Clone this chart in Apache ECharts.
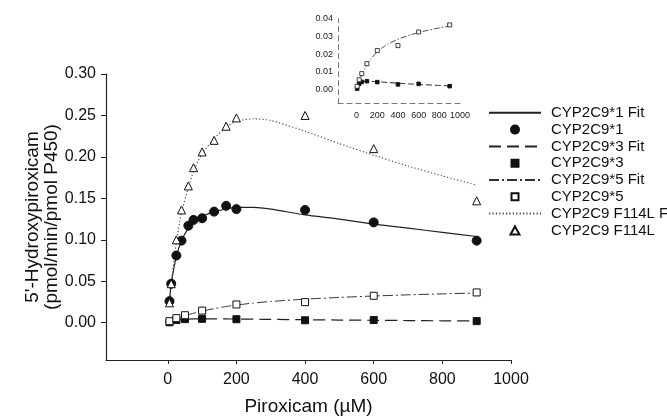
<!DOCTYPE html>
<html>
<head>
<meta charset="utf-8">
<script src="https://cdn.jsdelivr.net/npm/echarts@6/dist/echarts.min.js"></script>
<style>
html,body{margin:0;padding:0;background:#fff;}
#c{width:667px;height:420px;}
</style>
</head>
<body>
<div id="c"></div>
<script>
// ---- data ----
var xTicks = [0, 200, 400, 600, 800, 1000];
var yTicks = [0, 0.05, 0.1, 0.15, 0.2, 0.25, 0.3];
var insetXTicks = [0, 200, 400, 600, 800, 1000];
var insetYTicks = [0, 0.01, 0.02, 0.03, 0.04];

var wt1X = [5, 10, 25, 40, 60, 75, 100, 135, 170, 200, 400, 600, 900];
var wt1Y = [0.026, 0.047, 0.081, 0.099, 0.117, 0.124, 0.126, 0.134, 0.141, 0.137, 0.136, 0.121, 0.099];

var f114X = [5, 10, 25, 40, 60, 75, 100, 135, 170, 200, 400, 600, 900];
var f114Y = [0.024, 0.047, 0.100, 0.136, 0.165, 0.187, 0.206, 0.220, 0.237, 0.247, 0.250, 0.210, 0.147];

var v5X = [5, 25, 50, 100, 200, 400, 600, 900];
var v5Y = [0.0018, 0.0055, 0.0090, 0.0146, 0.0220, 0.0248, 0.0325, 0.0365];

var v3X = [5, 25, 50, 100, 200, 400, 600, 900];
var v3Y = [0.0005, 0.0032, 0.0043, 0.0047, 0.0042, 0.0029, 0.0032, 0.0019];

var fitX = [5, 10, 25, 40, 60, 75, 100, 135, 170, 200, 250, 300, 400, 500, 600, 700, 800, 900];
var fit1Y = [0.026, 0.047, 0.080, 0.099, 0.114, 0.121, 0.128, 0.134, 0.137, 0.139, 0.139, 0.137, 0.130, 0.125, 0.119, 0.114, 0.109, 0.104];
var fitF114Y = [0.024, 0.047, 0.097, 0.133, 0.163, 0.183, 0.204, 0.222, 0.236, 0.243, 0.246, 0.244, 0.231, 0.216, 0.202, 0.189, 0.177, 0.166];
var fit5Y = [0.0010, 0.0020, 0.0047, 0.0071, 0.0097, 0.0114, 0.0140, 0.0170, 0.0195, 0.0213, 0.0237, 0.0256, 0.0284, 0.0305, 0.0322, 0.0336, 0.0348, 0.0358];
var fit3Y = [0.0008, 0.0015, 0.0030, 0.0038, 0.0043, 0.0045, 0.0046, 0.0046, 0.0045, 0.0044, 0.0042, 0.0040, 0.0036, 0.0032, 0.0029, 0.0026, 0.0023, 0.0021];

var names = ['CYP2C9*1 Fit', 'CYP2C9*1', 'CYP2C9*3 Fit', 'CYP2C9*3', 'CYP2C9*5 Fit', 'CYP2C9*5', 'CYP2C9 F114L Fit', 'CYP2C9 F114L'];

function zip(xs, ys) { return xs.map(function (x, i) { return [x, ys[i]]; }); }

var FONT = "'Liberation Sans', Arial, Helvetica, sans-serif";
var INK = '#111';

function fitSeries(name, ys, type, color, width, grid) {
  return {
    name: name, type: 'line', xAxisIndex: grid, yAxisIndex: grid,
    data: zip(fitX, ys), symbol: 'none', showSymbol: false, smooth: 0.2,
    lineStyle: { color: color, width: width, type: type },
    itemStyle: { color: color },
    emphasis: { disabled: true }, z: 2
  };
}
function ptSeries(name, xs, ys, symbol, size, fill, grid) {
  return {
    name: name, type: 'scatter', xAxisIndex: grid, yAxisIndex: grid,
    data: zip(xs, ys), symbol: symbol, symbolSize: size,
    itemStyle: { color: fill, borderColor: '#111', borderWidth: 1, opacity: 1 },
    emphasis: { disabled: true }, z: 3
  };
}

var series = [
  fitSeries(names[0], fit1Y, 'solid', '#222', 1.2, 0),
  ptSeries(names[1], wt1X, wt1Y, 'circle', 9, '#111', 0),
  fitSeries(names[2], fit3Y, [12, 6], '#222', 1.2, 0),
  ptSeries(names[3], v3X, v3Y, 'rect', 7, '#111', 0),
  fitSeries(names[4], fit5Y, [10, 3, 2, 3], '#333', 1, 0),
  ptSeries(names[5], v5X, v5Y, 'rect', 7, '#fff', 0),
  fitSeries(names[6], fitF114Y, [1.2, 2.2], '#444', 1.1, 0),
  ptSeries(names[7], f114X, f114Y, 'triangle', 8, '#fff', 0),
  // inset
  fitSeries(names[2], fit3Y, [6, 3], '#222', 1, 1),
  ptSeries(names[3], v3X, v3Y, 'rect', 3.5, '#111', 1),
  fitSeries(names[4], fit5Y, [6, 2, 1.5, 2], '#333', 0.9, 1),
  ptSeries(names[5], v5X, v5Y, 'rect', 4, '#fff', 1)
];
series[11].itemStyle.borderWidth = 0.8;

var markerSize = { 'CYP2C9*1': [8, 8], 'CYP2C9*3': [7, 7], 'CYP2C9*5': [7, 7], 'CYP2C9 F114L': [9, 8] };

var legends = names.map(function (n, i) {
  var isLine = (i % 2 === 0);
  var center = 113.3 + 16.8 * i;
  var base = {
    data: [n], orient: 'vertical', top: center - 8,
    padding: 0, itemGap: 0, selectedMode: true
  };
  if (isLine) {
    base.left = 488;
    base.itemWidth = 52;
    base.itemHeight = 14;
    base.itemStyle = { color: 'rgba(0,0,0,0)', borderColor: 'rgba(0,0,0,0)', borderWidth: 0 };
    base.textStyle = { fontFamily: FONT, fontSize: 15, color: INK, padding: [0, 0, 0, 5] };
  } else {
    var sz = markerSize[n];
    base.left = 514 - sz[0] / 2;
    base.itemWidth = sz[0];
    base.itemHeight = sz[1];
    base.textStyle = { fontFamily: FONT, fontSize: 15, color: INK, padding: [0, 0, 0, 550 - (514 + sz[0] / 2 + 5)] };
  }
  return base;
});

var option = {
  backgroundColor: '#fff',
  animation: false,
  textStyle: { fontFamily: FONT },
  grid: [
    { left: 106, top: 74, width: 405, height: 286, outerBoundsMode: 'none', containLabel: false },
    { left: 338, top: 18.7, width: 122, height: 85, outerBoundsMode: 'none', containLabel: false }
  ],
  legend: legends,
  xAxis: [
    {
      type: 'value', gridIndex: 0, min: -180, max: 1000,
      name: 'Piroxicam (µM)', nameLocation: 'middle', nameGap: 37, nameMoveOverlap: false,
      nameTextStyle: { fontFamily: FONT, fontSize: 19, color: INK },
      axisLine: { show: true, onZero: false, lineStyle: { color: '#222', width: 1.2 } },
      axisTick: { show: true, inside: false, length: 4, customValues: xTicks, lineStyle: { color: '#222' } },
      axisLabel: { customValues: xTicks, fontFamily: FONT, fontSize: 16, color: INK, margin: 12,
        formatter: function (v) { return String(v); } },
      splitLine: { show: false }
    },
    {
      type: 'value', gridIndex: 1, min: -180, max: 1000,
      axisLine: { show: true, onZero: false, lineStyle: { color: '#777', width: 1, type: [5, 4] } },
      axisTick: { show: false },
      axisLabel: { customValues: insetXTicks, fontFamily: FONT, fontSize: 9, color: '#222', margin: 7,
        formatter: function (v) { return String(v); } },
      splitLine: { show: false }
    }
  ],
  yAxis: [
    {
      type: 'value', gridIndex: 0, min: -0.045, max: 0.30,
      name: "5'-Hydroxypiroxicam\n(pmol/min/pmol P450)", nameLocation: 'middle', nameGap: 45, nameMoveOverlap: false,
      nameTextStyle: { fontFamily: FONT, fontSize: 19, color: INK, lineHeight: 19 },
      axisLine: { show: true, onZero: false, lineStyle: { color: '#222', width: 1.2 } },
      axisTick: { show: true, inside: false, length: 5, customValues: yTicks, lineStyle: { color: '#222' } },
      axisLabel: { customValues: yTicks, fontFamily: FONT, fontSize: 16, color: INK, margin: 10,
        formatter: function (v) { return v.toFixed(2); } },
      splitLine: { show: false }
    },
    {
      type: 'value', gridIndex: 1, min: -0.008, max: 0.04,
      axisLine: { show: true, onZero: false, lineStyle: { color: '#777', width: 1, type: [5, 4] } },
      axisTick: { show: false },
      axisLabel: { customValues: insetYTicks, fontFamily: FONT, fontSize: 9, color: '#222', margin: 5,
        formatter: function (v) { return v.toFixed(2); } },
      splitLine: { show: false }
    }
  ],
  series: series
};

var chart = echarts.init(document.getElementById('c'), null, { renderer: 'canvas' });
chart.setOption(option);
</script>
</body>
</html>
